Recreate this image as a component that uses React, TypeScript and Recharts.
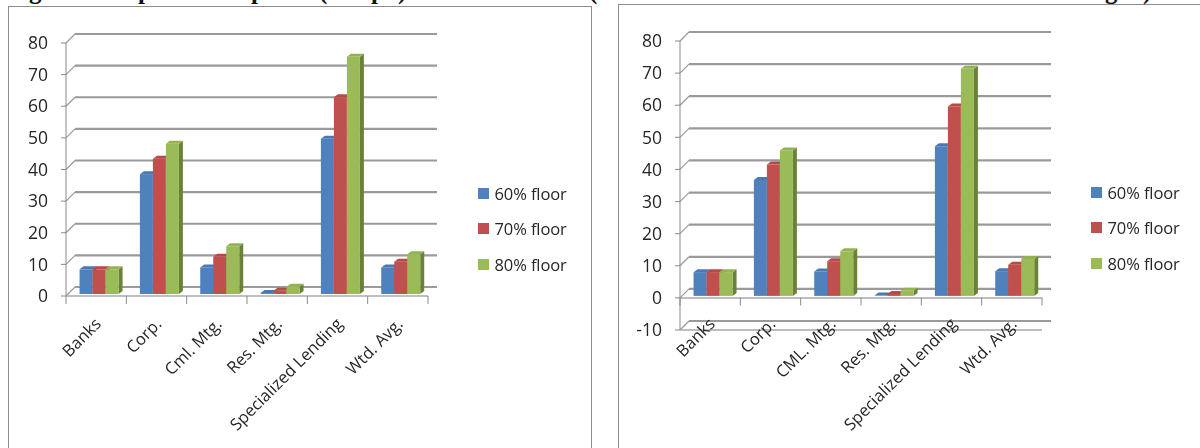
import React from "react";
import { BarChart, Bar, XAxis, YAxis, CartesianGrid, ReferenceLine, Legend } from "recharts";

const seriesNames = ["60% floor", "70% floor", "80% floor"];
const seriesColors = ["#4f81bd", "#c0504d", "#9bbb59"];
const sideColors = ["#3a6191", "#8c3836", "#6a8238"];
const topColors = ["#4a78b0", "#b54a47", "#93b252"];

const leftCategories = ["Banks", "Corp.", "Cml. Mtg.", "Res. Mtg.", "Specialized Lending", "Wtd. Avg."];
const left60 = [7.8, 37.9, 8.4, 0.3, 49.1, 8.4];
const left70 = [7.8, 42.8, 11.8, 1, 62.2, 10.2];
const left80 = [7.8, 47.5, 15.1, 2.3, 75, 12.6];
const leftTicks = [0, 10, 20, 30, 40, 50, 60, 70, 80];

const rightCategories = ["Banks", "Corp.", "CML. Mtg.", "Res. Mtg.", "Specialized Lending", "Wtd. Avg."];
const right60 = [7.4, 36.1, 7.6, 0.1, 46.6, 7.7];
const right70 = [7.4, 40.9, 10.8, 0.6, 59, 9.7];
const right80 = [7.4, 45.3, 13.9, 1.6, 70.7, 11.5];
const rightTicks = [-10, 0, 10, 20, 30, 40, 50, 60, 70, 80];

const clippedTitleGlyphs = ["g", "p", "p", "(", "p", ")", "(", "g", ")"];
const clippedTitleX = [29, 138, 251, 319, 371, 398, 589, 1105, 1143];

const buildRows = (cats: string[], a: number[], b: number[], c: number[]) =>
  cats.map((name, i) => ({ name, s60: a[i], s70: b[i], s80: c[i] }));

const FONT = "'Open Sans', sans-serif";
const TEXT = "#262626";
const GRID = "#9a9a9a";
const DEPTH = 9;
const LEGEND_W = 110;

const barShape = (idx: number) => (p: any) => {
  const x = p.x + 3;
  const y = p.y - 2;
  const w = p.width;
  const h = p.height;
  const d = 4;
  return (
    <g>
      <polygon points={`${x + w},${y} ${x + w + d},${y - 3} ${x + w + d},${y + h - 3} ${x + w},${y + h}`} fill={sideColors[idx]} />
      <polygon points={`${x},${y} ${x + d},${y - 3} ${x + w + d},${y - 3} ${x + w},${y}`} fill={topColors[idx]} />
      <rect x={x} y={y} width={w} height={h} fill={seriesColors[idx]} />
    </g>
  );
};

const wallLine = (p: any) => (
  <g key={p.key ?? p.y1}>
    <line x1={p.x1 + DEPTH} y1={p.y1 - DEPTH} x2={p.x2 + DEPTH} y2={p.y2 - DEPTH} stroke={GRID} strokeWidth={2.2} />
    <line x1={p.x1} y1={p.y1} x2={p.x1 + DEPTH} y2={p.y1 - DEPTH} stroke={GRID} strokeWidth={1.2} />
  </g>
);

const makeTick = (band: number, axisY: number, count: number, labelY: number) => (p: any) => {
  const cx = p.payload.coordinate;
  const tx = cx + 6;
  return (
    <g>
      <line x1={cx - band / 2} y1={axisY} x2={cx - band / 2} y2={axisY + 8} stroke="#8a8a8a" />
      {p.index === count - 1 && <line x1={cx + band / 2} y1={axisY} x2={cx + band / 2} y2={axisY + 8} stroke="#8a8a8a" />}
      <text x={tx} y={labelY} transform={`rotate(-45 ${tx} ${labelY})`} textAnchor="end" fontFamily={FONT} fontSize={16.5} fill={TEXT}>
        {p.payload.value}
      </text>
    </g>
  );
};

const legendContent = () => (
  <div style={{ fontFamily: FONT, fontSize: 16.5, letterSpacing: -0.1, color: TEXT }}>
    {seriesNames.map((n, i) => (
      <div key={n} style={{ display: "flex", alignItems: "center", height: 35.5, whiteSpace: "nowrap" }}>
        <span style={{ width: 11, height: 11, background: seriesColors[i], marginRight: 6, display: "inline-block" }} />
        {n}
      </div>
    ))}
  </div>
);

type PanelProps = {
  rows: any[];
  ticks: number[];
  domain: [number, number];
  left: number;
  top: number;
  width: number;
  height: number;
  plotLeft: number;
  plotTop: number;
  plotRight: number;
  plotBottom: number;
  zeroY: number;
  legendLeft: number;
  legendTop: number;
  labelY: number;
};

function Panel(props: PanelProps) {
  const { rows, ticks, domain, left, top, width, height, plotLeft, plotTop, plotRight, plotBottom, zeroY, legendLeft, legendTop, labelY } = props;
  const band = (plotRight - plotLeft) / rows.length;
  return (
    <div style={{ position: "absolute", left, top, width, height, background: "#fff", border: "1.5px solid #8c8c8c", boxSizing: "border-box" }}>
      <div style={{ position: "absolute", left: -1.5, top: -1.5, filter: "blur(0.45px)" }}>
        <BarChart
          width={width}
          height={height}
          data={rows}
          barGap={0}
          barCategoryGap="17.5%"
          margin={{ left: 0, top: plotTop, right: width - plotRight - LEGEND_W, bottom: 0 }}
        >
          <CartesianGrid vertical={false} horizontal={wallLine as any} stroke={GRID} />
          <YAxis
            width={plotLeft}
            domain={domain}
            ticks={ticks}
            interval={0}
            axisLine={{ stroke: "#8a8a8a" }}
            tickLine={{ stroke: "#8a8a8a" }}
            tickSize={5}
            tickMargin={13}
            tick={{ fontFamily: FONT, fontSize: 17.5, fill: TEXT }}
          />
          <XAxis
            dataKey="name"
            interval={0}
            height={height - plotBottom}
            axisLine={{ stroke: "#a8a8a8", strokeWidth: 1.5 }}
            tickLine={false}
            tick={makeTick(band, zeroY, rows.length, labelY) as any}
            tickMargin={0}
          />
          {domain[0] < 0 && <ReferenceLine y={0} stroke="#a8a8a8" strokeWidth={1.5} />}
          <Bar dataKey="s60" isAnimationActive={false} shape={barShape(0) as any} />
          <Bar dataKey="s70" isAnimationActive={false} shape={barShape(1) as any} />
          <Bar dataKey="s80" isAnimationActive={false} shape={barShape(2) as any} />
          <Legend
            layout="vertical"
            align="right"
            verticalAlign="top"
            content={legendContent as any}
            wrapperStyle={{ left: legendLeft, top: legendTop, width: LEGEND_W, bottom: "auto", right: "auto" }}
          />
        </BarChart>
      </div>
    </div>
  );
}

export default function App() {
  return (
    <div style={{ position: "absolute", left: 0, top: 0, width: 1200, height: 448, overflow: "hidden", background: "#fff" }}>
      <svg width={1200} height={6} style={{ position: "absolute", left: 0, top: 0 }}>
        {clippedTitleGlyphs.map((g, i) => (
          <text key={i} x={clippedTitleX[i]} y={-1} fontFamily="'Liberation Serif', serif" fontWeight="bold" fontSize={25} fill="#111">
            {g}
          </text>
        ))}
      </svg>
      <Panel
        rows={buildRows(leftCategories, left60, left70, left80)}
        ticks={leftTicks}
        domain={[0, 80]}
        left={8}
        top={6}
        width={584}
        height={450}
        plotLeft={58}
        plotTop={37}
        plotRight={420}
        plotBottom={290}
        zeroY={290}
        labelY={319}
        legendLeft={470}
        legendTop={170}
      />
      <Panel
        rows={buildRows(rightCategories, right60, right70, right80)}
        ticks={rightTicks}
        domain={[-10, 80]}
        left={618}
        top={4}
        width={590}
        height={452}
        plotLeft={62}
        plotTop={37}
        plotRight={424}
        plotBottom={326}
        zeroY={293.5}
        labelY={321}
        legendLeft={473}
        legendTop={171}
      />
    </div>
  );
}
